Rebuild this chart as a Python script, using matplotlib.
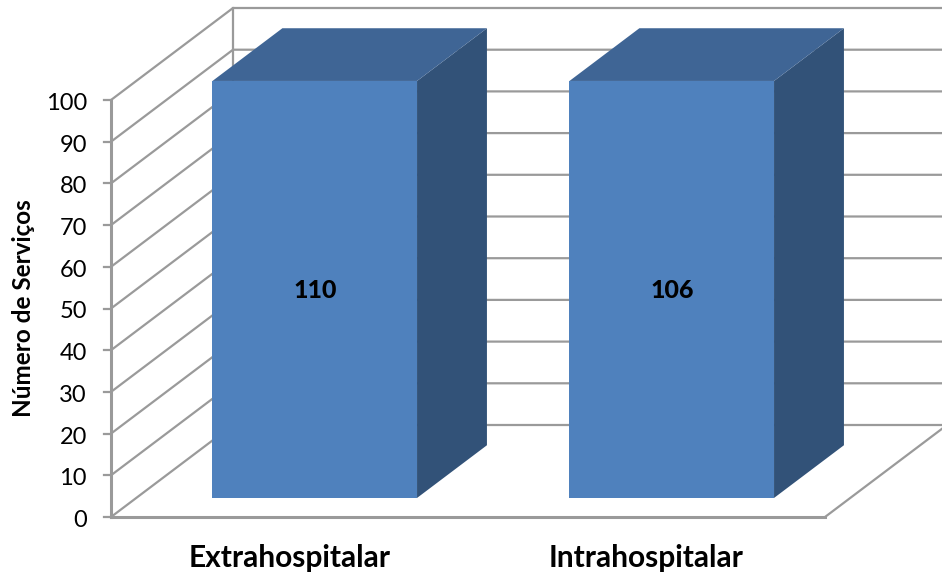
import matplotlib
matplotlib.use("Agg")
from matplotlib import pyplot as plt
from matplotlib.patches import Polygon

plt.rcParams['font.family'] = ['Lato', 'DejaVu Sans']

categories = ["Extrahospitalar", "Intrahospitalar"]
values = [110, 106]
ticks = list(range(0, 101, 10))
ymax = 100

W, H = 942, 575
# geometria da caixa 3D em pixels
x0, x1 = 111, 825
y0, unit = 517, 4.17
dx, dy = 122, 92
bar_w = 0.573
d_front, d_back = 0.207, 0.78
grid_col = "#9a9a9a"


def proj(cat, v, d):
    # cat em unidades de categoria, v em unidades de valor, d profundidade 0-1
    cw = (x1 - x0) / len(categories)
    return (x0 + cat * cw + d * dx, y0 - min(v, ymax) * unit - d * dy)


fig = plt.figure(figsize=(W / 100, H / 100), dpi=100)
ax = fig.add_axes([0, 0, 1, 1])
ax.set_xlim(0, W)
ax.set_ylim(H, 0)
ax.axis("off")

n = len(categories)
# grelha: parede lateral e parede de fundo
for t in ticks:
    a = proj(0, t, 0)
    b = proj(0, t, 1)
    c = proj(n, t, 1)
    ax.plot([a[0], b[0], c[0]], [a[1], b[1], c[1]], color=grid_col, lw=1.6, zorder=1)
    ax.plot([a[0] - 7, a[0]], [a[1], a[1]], color=grid_col, lw=1.6, zorder=1)
    ax.text(87, a[1] + 3.5, str(t), ha="right", va="center", fontsize=17, color="black")

# eixos e chao
a, b, c, d = proj(0, 0, 0), proj(n, 0, 0), proj(n, 0, 1), proj(0, 0, 1)
ax.plot([a[0], b[0]], [a[1], b[1]], color=grid_col, lw=2.2, zorder=2)
ax.plot([b[0], c[0]], [b[1], c[1]], color=grid_col, lw=1.6, zorder=1)
top = proj(0, ymax, 0)
ax.plot([a[0], top[0]], [a[1], top[1]], color=grid_col, lw=2.2, zorder=2)
back_top = proj(0, ymax, 1)
ax.plot([d[0], back_top[0]], [d[1], back_top[1]], color=grid_col, lw=1.6, zorder=1)

# barras
for i, v in enumerate(values):
    l = i + 0.5 - bar_w / 2
    r = i + 0.5 + bar_w / 2
    front = [proj(l, 0, d_front), proj(r, 0, d_front), proj(r, v, d_front), proj(l, v, d_front)]
    side = [proj(r, 0, d_front), proj(r, 0, d_back), proj(r, v, d_back), proj(r, v, d_front)]
    roof = [proj(l, v, d_front), proj(r, v, d_front), proj(r, v, d_back), proj(l, v, d_back)]
    ax.add_patch(Polygon(side, closed=True, fc="#325278", ec="none", zorder=3))
    ax.add_patch(Polygon(roof, closed=True, fc="#3f6595", ec="none", zorder=3))
    ax.add_patch(Polygon(front, closed=True, fc="#4f81bd", ec="none", zorder=4))
    cx = (front[0][0] + front[1][0]) / 2
    ax.text(cx, 290, str(v), ha="center", va="center", fontsize=18, fontweight="black", color="black", zorder=5)
    ax.text(proj(i + 0.5, 0, 0)[0], 558, categories[i], ha="center", va="center",
            fontsize=21.5, fontweight="bold", color="black")

ax.text(24, 308, "Número de Serviços", rotation=90, ha="center", va="center",
        fontsize=17.5, fontweight="bold", color="black")

fig.savefig("out.png", dpi=100)
